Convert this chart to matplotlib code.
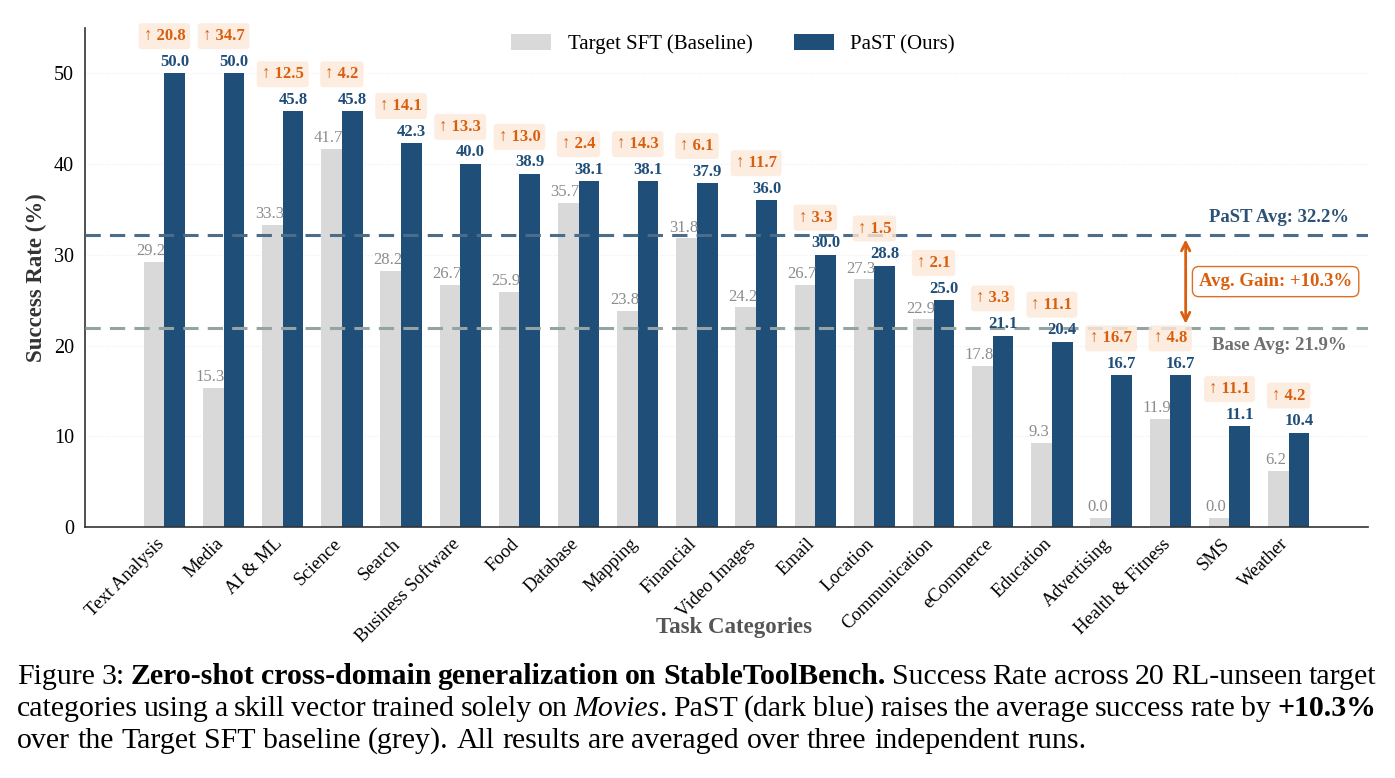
import numpy as np
import matplotlib
matplotlib.use("Agg")
import matplotlib.pyplot as plt

plt.rcParams['font.family'] = ['Liberation Serif', 'DejaVu Serif']

categories = ["Text Analysis", "Media", "AI & ML", "Science", "Search", "Business Software",
              "Food", "Database", "Mapping", "Financial", "Video Images", "Email", "Location",
              "Communication", "eCommerce", "Education", "Advertising", "Health & Fitness",
              "SMS", "Weather"]
baseline = [29.2, 15.3, 33.3, 41.7, 28.2, 26.7, 25.9, 35.7, 23.8, 31.8, 24.2, 26.7, 27.3,
            22.9, 17.8, 9.3, 0.0, 11.9, 0.0, 6.2]
past = [50.0, 50.0, 45.8, 45.8, 42.3, 40.0, 38.9, 38.1, 38.1, 37.9, 36.0, 30.0, 28.8,
        25.0, 21.1, 20.4, 16.7, 16.7, 11.1, 10.4]
gains = [20.8, 34.7, 12.5, 4.2, 14.1, 13.3, 13.0, 2.4, 14.3, 6.1, 11.7, 3.3, 1.5,
         2.1, 3.3, 11.1, 16.7, 4.8, 11.1, 4.2]
past_avg = 32.2
base_avg = 21.9
avg_gain = 10.3

grey = "#d9d9d9"
blue = "#1f4e79"
orange = "#d95f0e"

fig = plt.figure(figsize=(13.95, 7.78), dpi=100)
ax = fig.add_axes([0.061, 0.3226, 0.92, 0.6414])

x = np.arange(len(categories))
w = 0.35
base_show = np.maximum(baseline, 1.0)
ax.bar(x - w / 2, base_show, w, color=grey, label="Target SFT (Baseline)", zorder=2)
ax.bar(x + w / 2, past, w, color=blue, label="PaST (Ours)", zorder=2)

for i in range(len(categories)):
    ax.text(x[i] - w / 2 - 0.05, base_show[i] + 0.3, f"{baseline[i]:.1f}", ha="center",
            va="bottom", fontsize=12, color="#8c8c8c", zorder=4)
    ax.text(x[i] + w / 2, past[i] + 0.4, f"{past[i]:.1f}", ha="center", va="bottom",
            fontsize=12, color=blue, fontweight="bold", zorder=4)
    ax.text(x[i], past[i] + 4.1, f"↑ {gains[i]:.1f}", ha="center", va="center",
            fontsize=12, color=orange, fontweight="bold", zorder=5,
            bbox=dict(boxstyle="round,pad=0.3,rounding_size=0.2", fc="#fde9d9", ec="none",
                      alpha=0.8))

ax.axhline(past_avg, color="#4a6d8c", ls=(0, (5, 3)), lw=2.2, zorder=3)
ax.axhline(base_avg, color="#95a3a3", ls=(0, (5, 3)), lw=2.2, zorder=3)
ax.text(18.83, past_avg + 1.9, f"PaST Avg: {past_avg:.1f}%", ha="center", va="center",
        fontsize=13.5, fontweight="bold", color="#2c5275")
ax.text(18.85, base_avg - 1.9, f"Base Avg: {base_avg:.1f}%", ha="center", va="center",
        fontsize=13.5, fontweight="bold", color="#707070")
ax.annotate("", xy=(17.26, past_avg - 0.2), xytext=(17.26, base_avg + 0.2),
            arrowprops=dict(arrowstyle="<->", color=orange, lw=2, mutation_scale=15))
ax.text(18.78, (past_avg + base_avg) / 2, f"Avg. Gain: +{avg_gain:.1f}%", ha="center",
        va="center", fontsize=13.5, fontweight="bold", color=orange,
        bbox=dict(boxstyle="round,pad=0.35", fc="white", ec=orange, lw=1, alpha=0.9))

ax.set_xlim(-1.34, 20.35)
ax.set_ylim(0, 55)
ax.set_yticks([0, 10, 20, 30, 40, 50])
# tick marks are hidden, labels anchored a little left of each group centre
ax.set_xticks(x - 0.15)
ax.set_xticklabels(categories, rotation=45, ha="right", rotation_mode="anchor", fontsize=13.5)
ax.tick_params(axis="y", labelsize=14.5, length=0, pad=8)
ax.tick_params(axis="x", length=0, pad=6)
ax.yaxis.grid(True, color="#eeeeee", ls=":", lw=0.8, zorder=0)
ax.set_axisbelow(True)
for s in ["top", "right"]:
    ax.spines[s].set_visible(False)
for s in ["left", "bottom"]:
    ax.spines[s].set_color("#333333")
    ax.spines[s].set_linewidth(1.2)
ax.set_ylabel("Success Rate (%)", fontsize=16.5, fontweight="bold", color="#333333", labelpad=5)
ax.set_xlabel("Task Categories", fontsize=16.5, fontweight="bold", color="#555555")
ax.xaxis.set_label_coords(0.506, -0.18)
ax.legend(loc="upper center", bbox_to_anchor=(0.505, 1.025), ncol=2, frameon=False,
          fontsize=15, handlelength=1.9, handleheight=0.8, columnspacing=2.0)

# caption, laid out word by word and justified
W, H = 1395, 778
lines = [
    [("Figure", "n", 0), ("3:", "n", 0), ("Zero-shot", "b", 0), ("cross-domain", "b", 0),
     ("generalization", "b", 0), ("on", "b", 0), ("StableToolBench.", "b", 0),
     ("Success", "n", 0), ("Rate", "n", 0), ("across", "n", 0), ("20", "n", 0),
     ("RL-unseen", "n", 0), ("target", "n", 0)],
    [("categories", "n", 0), ("using", "n", 0), ("a", "n", 0), ("skill", "n", 0),
     ("vector", "n", 0), ("trained", "n", 0), ("solely", "n", 0), ("on", "n", 0),
     ("Movies", "i", 0), (".", "n", 1), ("PaST", "n", 0), ("(dark", "n", 0), ("blue)", "n", 0),
     ("raises", "n", 0), ("the", "n", 0), ("average", "n", 0), ("success", "n", 0),
     ("rate", "n", 0), ("by", "n", 0), ("+10.3%", "b", 0)],
    [("over", "n", 0), ("the", "n", 0), ("Target", "n", 0), ("SFT", "n", 0),
     ("baseline", "n", 0), ("(grey).", "n", 0), ("All", "n", 0), ("results", "n", 0),
     ("are", "n", 0), ("averaged", "n", 0), ("over", "n", 0), ("three", "n", 0),
     ("independent", "n", 0), ("runs.", "n", 0)],
]
baselines = [684, 716, 748]
x0, x1 = 17, 1376
cap_fs = 21.5
renderer = fig.canvas.get_renderer()
for li, toks in enumerate(lines):
    arts = []
    for text, st, glue in toks:
        t = fig.text(0, 1 - baselines[li] / H, text, fontsize=cap_fs, va="baseline",
                     fontweight="bold" if st == "b" else "normal",
                     fontstyle="italic" if st == "i" else "normal")
        arts.append((t, t.get_window_extent(renderer).width, glue))
    n_gaps = sum(1 for a in arts[1:] if not a[2])
    total = sum(a[1] for a in arts)
    gap = (x1 - x0 - total) / n_gaps if li < 2 else cap_fs * 1.39 * 0.25
    pos = x0
    for k, (t, wd, glue) in enumerate(arts):
        if k > 0 and not glue:
            pos += gap
        t.set_x(pos / W)
        pos += wd

fig.savefig("out.png", dpi=100)
